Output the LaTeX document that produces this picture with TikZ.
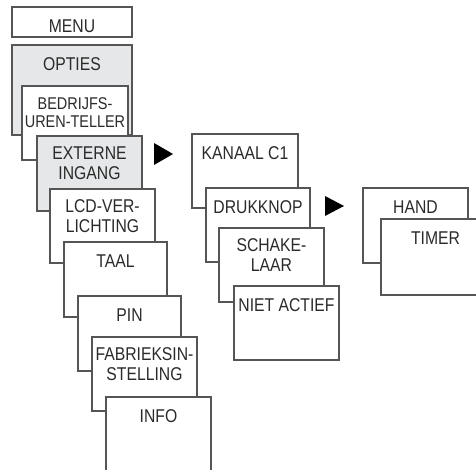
\documentclass[tikz,border=0pt]{standalone}
\usepackage{fontspec}
\setmainfont[FakeStretch=0.85]{Liberation Sans}
\definecolor{edge}{HTML}{555555}
\definecolor{boxgray}{HTML}{E6E7E8}
\definecolor{ink}{HTML}{2A2A2A}
\tikzset{
  mbox/.style={draw=edge, line width=1.2pt, fill=white, rectangle, inner sep=0pt, outer sep=0pt},
  gbox/.style={mbox, fill=boxgray},
  lbl/.style={anchor=north, inner sep=0pt, text=ink, align=center,
    font=\fontsize{18.5}{20}\selectfont, execute at begin node={\rule{0pt}{14.5pt}}},
  lblsmall/.style={lbl, font=\fontsize{17}{18.5}\selectfont},
  tri/.style={fill=black}
}
\newcommand{\mkbox}[7]{%
  \node[#1, minimum width={#4-#2}, minimum height={#5-#3}] (#6) at ({(#2+#4)/2},{(#3+#5)/2}) {};
  \node[lbl] (#6-t) at ([yshift=-10.5pt]#6.north) {#7};
}
\begin{document}
\begin{tikzpicture}[x=1pt,y=-1pt]
\useasboundingbox (0,0) rectangle (476,470);
\clip (0,0) rectangle (476,470);
% left column
\mkbox{mbox}{12}{7}{132}{37}{menu}{MENU}
\mkbox{gbox}{12}{45}{132}{135}{opties}{OPTIES}
\node[mbox, minimum width=106, minimum height=74] (bedr) at (75,123) {};
\node[lblsmall] (bedr-t) at ([yshift=-11pt]bedr.north) {BEDRIJFS-\\UREN-TELLER};
\mkbox{gbox}{37}{136}{142}{211}{ext}{EXTERNE\\INGANG}
\mkbox{mbox}{50}{189}{155}{263}{lcd}{LCD-VER-\\LICHTING}
\mkbox{mbox}{64}{242}{167}{317}{taal}{TAAL}
\mkbox{mbox}{78}{296}{181}{371}{pin}{PIN}
\mkbox{mbox}{92}{337}{197}{411}{fab}{FABRIEKSIN-\\STELLING}
\mkbox{mbox}{106}{397}{211}{490}{info}{INFO}
% middle column
\mkbox{mbox}{192}{134}{298}{208}{kanaal}{KANAAL C1}
\mkbox{mbox}{206}{188}{310}{262}{druk}{DRUKKNOP}
\mkbox{mbox}{219}{228}{324}{302}{schake}{SCHAKE-\\LAAR}
\mkbox{mbox}{234}{286}{339}{360}{niet}{NIET ACTIEF}
% right column
\mkbox{mbox}{363}{188}{468}{263}{hand}{HAND}
\mkbox{mbox}{381}{219}{490}{295}{timer}{TIMER}
% arrows
\fill[tri] (154,143) -- (154,165) -- (173,154) -- cycle;
\fill[tri] (325,196) -- (325,216) -- (344,206) -- cycle;
\end{tikzpicture}
\end{document}
